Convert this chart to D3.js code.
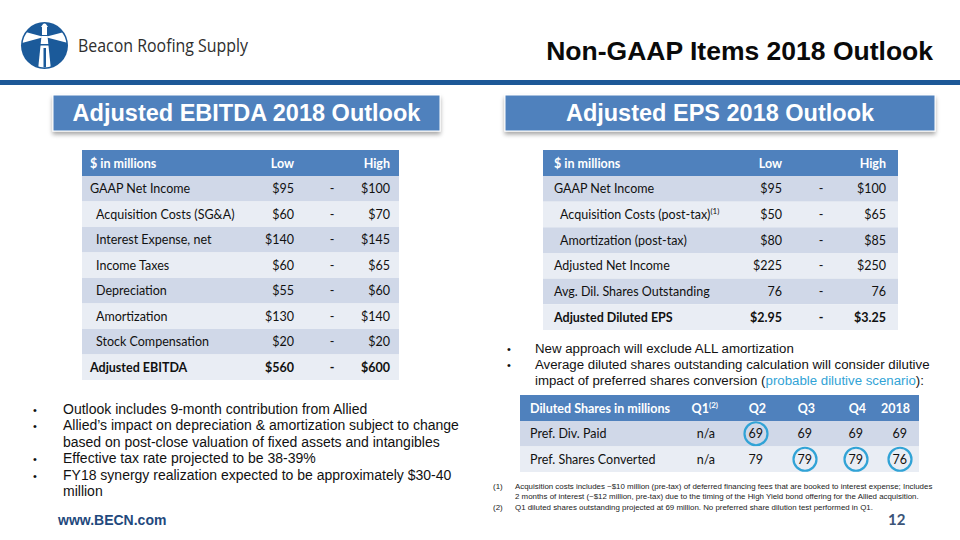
<!DOCTYPE html>
<html><head><meta charset="utf-8">
<script src="https://cdn.jsdelivr.net/npm/d3@7"></script>
<style>body{margin:0;background:#fff}svg{display:block}</style>
</head><body>
<svg id="c" width="960" height="540"></svg>
<script>
// ---------- DATA ----------
const ebitdaItems = ["GAAP Net Income","Acquisition Costs (SG&A)","Interest Expense, net","Income Taxes","Depreciation","Amortization","Stock Compensation","Adjusted EBITDA"];
const ebitdaLow  = ["$95","$60","$140","$60","$55","$130","$20","$560"];
const ebitdaHigh = ["$100","$70","$145","$65","$60","$140","$20","$600"];
const ebitdaIndent = [0,1,1,1,1,1,1,0];
const ebitdaBold   = [0,0,0,0,0,0,0,1];

const epsItems = ["GAAP Net Income","Acquisition Costs (post-tax)","Amortization (post-tax)","Adjusted Net Income","Avg. Dil. Shares Outstanding","Adjusted Diluted EPS"];
const epsNotes = ["","(1)","","","",""];
const epsLow  = ["$95","$50","$80","$225","76","$2.95"];
const epsHigh = ["$100","$65","$85","$250","76","$3.25"];
const epsIndent = [0,1,1,0,0,0];
const epsBold   = [0,0,0,0,0,1];

const tableHeader = ["$ in millions","Low","High"];

const sharesTitle = "Diluted Shares in millions";
const sharesCols = ["Q1","Q2","Q3","Q4","2018"];
const sharesColNotes = ["(2)","","","",""];
const sharesRows = ["Pref. Div. Paid","Pref. Shares Converted"];
const sharesDivPaid   = ["n/a","69","69","69","69"];
const sharesConverted = ["n/a","79","79","79","76"];
const circledDivPaid   = [0,1,0,0,0];
const circledConverted = [0,0,1,1,1];

const leftBullets = [
  ["Outlook includes 9-month contribution from Allied"],
  ["Allied\u2019s impact on depreciation & amortization subject to change","based on post-close valuation of fixed assets and intangibles"],
  ["Effective tax rate projected to be 38-39%"],
  ["FY18 synergy realization expected to be approximately $30-40","million"]
];
const footnotes = [
  ["(1)","Acquisition costs includes ~$10 million (pre-tax) of deferred financing fees that are booked to interest expense; Includes"],
  ["","2 months of interest (~$12 million, pre-tax) due to the timing of the High Yield bond offering for the Allied acquisition."],
  ["(2)","Q1 diluted shares outstanding projected at 69 million.  No preferred share dilution test performed in Q1."]
];

// ---------- STYLE ----------
const HEAD = "#4f81bd", DARK = "#d0d8e8", LIGHT = "#e9edf4", RULE = "#1d5897";
const TFONT = "Lato, 'Open Sans', sans-serif";
const AFONT = "'Liberation Sans', Arial, sans-serif";
const TEAL = "#31a3d6";

const svg = d3.select("#c");
const defs = svg.append("defs");
const f = defs.append("filter").attr("id","sh").attr("x","-5%").attr("y","-20%").attr("width","110%").attr("height","160%");
f.append("feDropShadow").attr("dx",0).attr("dy",3).attr("stdDeviation",2).attr("flood-color","#000").attr("flood-opacity",0.35);

// ---------- HEADER ----------
const logo = svg.append("g");
defs.append("clipPath").attr("id","lc").append("circle").attr("cx",44.5).attr("cy",45.5).attr("r",22);
logo.append("circle").attr("cx",44.5).attr("cy",45.5).attr("r",23.5).attr("fill","#1b5a9a");
const lg = logo.append("g").attr("clip-path","url(#lc)");
lg.append("path").attr("d","M44,37 L18,30 L18,44 Z").attr("fill","#fff");
lg.append("path").attr("d","M45,37 L72,30 L72,44 Z").attr("fill","#fff");
lg.append("path").attr("d","M41.5,36 L47.5,36 L51,70 L38,70 Z").attr("fill","#fff");
lg.append("rect").attr("x",42).attr("y",27).attr("width",5).attr("height",8).attr("fill","#fff");
lg.append("path").attr("d","M41,27 L44.5,22 L48,27 Z").attr("fill","#fff");
lg.append("rect").attr("x",39).attr("y",44).attr("width",11).attr("height",1.5).attr("fill","#1b5a9a");
lg.append("rect").attr("x",43.5).attr("y",48).attr("width",2.5).attr("height",22).attr("fill","#1b5a9a");
svg.append("text").attr("x",78).attr("y",52).attr("font-family","'Open Sans', sans-serif")
  .attr("font-size",19).attr("fill","#2e2e2e").attr("textLength",170).attr("lengthAdjust","spacingAndGlyphs")
  .text("Beacon Roofing Supply");

svg.append("text").attr("x",933).attr("y",60).attr("text-anchor","end").attr("font-family",AFONT)
  .attr("font-weight","bold").attr("font-size",26.5).attr("fill","#0a0a0a").text("Non-GAAP Items 2018 Outlook");

svg.append("rect").attr("x",0).attr("y",80).attr("width",960).attr("height",5).attr("fill",RULE);

const boxes = [
  {x:53, w:387, t:"Adjusted EBITDA 2018 Outlook"},
  {x:505, w:430, t:"Adjusted EPS 2018 Outlook"}
];
boxes.forEach(b=>{
  svg.append("rect").attr("x",b.x).attr("y",95).attr("width",b.w).attr("height",36)
    .attr("fill",HEAD).attr("stroke","#fff").attr("stroke-width",1).attr("filter","url(#sh)");
  svg.append("text").attr("x",b.x+b.w/2).attr("y",121).attr("text-anchor","middle")
    .attr("font-family",AFONT).attr("font-weight","bold").attr("font-size",23.5).attr("fill","#fff").text(b.t);
});

// ---------- TABLE helper ----------
function rangeTable(cfg){
  const g = svg.append("g");
  const n = cfg.items.length;
  const y = d3.scaleBand().domain(d3.range(n)).range([cfg.top+cfg.headH, cfg.bottom]);
  g.append("rect").attr("x",cfg.x0).attr("y",cfg.top).attr("width",cfg.x1-cfg.x0).attr("height",cfg.headH).attr("fill",HEAD);
  const hy = cfg.top+cfg.headH/2+4.5;
  const ht = g.append("g").attr("font-family",TFONT).attr("font-weight","bold").attr("font-size",12.5).attr("fill","#fff");
  ht.append("text").attr("x",cfg.labelX).attr("y",hy).text(tableHeader[0]);
  ht.append("text").attr("x",cfg.lowX).attr("y",hy).attr("text-anchor","end").text(tableHeader[1]);
  ht.append("text").attr("x",cfg.highX).attr("y",hy).attr("text-anchor","end").text(tableHeader[2]);
  const rows = g.selectAll("g.r").data(d3.range(n)).join("g").attr("class","r");
  rows.append("rect").attr("x",cfg.x0).attr("width",cfg.x1-cfg.x0)
    .attr("y",i=>y(i)).attr("height",y.bandwidth()).attr("fill",i=>i%2===0?DARK:LIGHT);
  const ty = i=>y(i)+y.bandwidth()/2+4.5;
  const tx = rows.append("g").attr("font-family",TFONT).attr("font-size",12.5).attr("fill","#111")
    .attr("font-weight",i=>cfg.bold[i]?"bold":"normal");
  const lab = tx.append("text").attr("x",i=>cfg.labelX+(cfg.indent[i]?cfg.indentW:0)).attr("y",ty);
  lab.append("tspan").text(i=>cfg.items[i]);
  if(cfg.notes){
    lab.append("tspan").attr("font-size",8).attr("dy",-5).text(i=>cfg.notes[i]);
  }
  tx.append("text").attr("x",cfg.lowX).attr("y",ty).attr("text-anchor","end").text(i=>cfg.low[i]);
  tx.append("text").attr("x",cfg.dashX).attr("y",ty).attr("text-anchor","middle").text("-");
  tx.append("text").attr("x",cfg.highX).attr("y",ty).attr("text-anchor","end").text(i=>cfg.high[i]);
}

rangeTable({items:ebitdaItems, low:ebitdaLow, high:ebitdaHigh, indent:ebitdaIndent, bold:ebitdaBold,
  x0:82, x1:399, top:150, headH:26, bottom:380, labelX:90, indentW:6, lowX:294, dashX:332, highX:390});
rangeTable({items:epsItems, notes:epsNotes, low:epsLow, high:epsHigh, indent:epsIndent, bold:epsBold,
  x0:543, x1:898, top:150, headH:26, bottom:330, labelX:554, indentW:6, lowX:782, dashX:821, highX:886});

// ---------- BULLETS ----------
function bullets(list, bx, tx, y0, lh, fs){
  const g = svg.append("g").attr("font-family",AFONT).attr("font-size",fs).attr("fill","#111");
  let yy = y0;
  list.forEach(lines=>{
    g.append("text").attr("x",bx).attr("y",yy).attr("font-size",11).text("\u2022");
    lines.forEach(l=>{
      if(Array.isArray(l)){
        const t = g.append("text").attr("x",tx).attr("y",yy);
        l.forEach(p=>t.append("tspan").attr("fill",p.c||"#111").text(p.t));
      } else g.append("text").attr("x",tx).attr("y",yy).text(l);
      yy += lh;
    });
  });
}
bullets(leftBullets, 33, 63, 414, 16.4, 14);
bullets([
  ["New approach will exclude ALL amortization"],
  ["Average diluted shares outstanding calculation will consider dilutive",
   [{t:"impact of preferred shares conversion ("},{t:"probable dilutive scenario",c:TEAL},{t:"):"}]]
], 507, 535, 353, 16, 13.25);

// ---------- SHARES TABLE ----------
(function(){
  const x0=520, x1=919, top=395, headH=26, bottom=472;
  const colX = d3.scaleOrdinal(sharesCols, [718,766,815,866,910]);
  const y = d3.scaleBand().domain(sharesRows).range([top+headH,bottom]);
  const vals = [sharesDivPaid, sharesConverted];
  const circ = [circledDivPaid, circledConverted];
  const g = svg.append("g");
  g.append("rect").attr("x",x0).attr("y",top).attr("width",x1-x0).attr("height",headH).attr("fill",HEAD);
  const hy = top+headH/2+4.5;
  const ht = g.append("g").attr("font-family",TFONT).attr("font-weight","bold").attr("font-size",12.5).attr("fill","#fff");
  ht.append("text").attr("x",530).attr("y",hy).text(sharesTitle);
  sharesCols.forEach((c,i)=>{
    const t = ht.append("text").attr("x",colX(c)).attr("y",hy).attr("text-anchor","end");
    t.append("tspan").text(c);
    if(sharesColNotes[i]) t.append("tspan").attr("font-size",8).attr("dy",-5).text(sharesColNotes[i]);
  });
  sharesRows.forEach((r,ri)=>{
    g.append("rect").attr("x",x0).attr("y",y(r)).attr("width",x1-x0).attr("height",y.bandwidth()).attr("fill",ri%2===0?DARK:LIGHT);
    const ty = y(r)+y.bandwidth()/2+4.5;
    const tg = g.append("g").attr("font-family",TFONT).attr("font-size",12.5).attr("fill","#111");
    tg.append("text").attr("x",530).attr("y",ty).text(r);
    sharesCols.forEach((c,ci)=>{
      tg.append("text").attr("x",colX(c)-3).attr("y",ty).attr("text-anchor","end").text(vals[ri][ci]);
      if(circ[ri][ci]){
        g.append("circle").attr("cx",colX(c)-10).attr("cy",y(r)+y.bandwidth()/2).attr("r",11.5)
          .attr("fill","none").attr("stroke",TEAL).attr("stroke-width",2.2);
      }
    });
  });
})();

// ---------- FOOTNOTES & FOOTER ----------
const fn = svg.append("g").attr("font-family",AFONT).attr("font-size",7.9).attr("fill","#222");
footnotes.forEach((r,i)=>{
  const yy = 489 + i*10.3;
  fn.append("text").attr("x",493).attr("y",yy).text(r[0]);
  fn.append("text").attr("x",515).attr("y",yy).text(r[1]);
});
svg.append("text").attr("x",58).attr("y",525).attr("font-family",AFONT).attr("font-weight","bold")
  .attr("font-size",14).attr("fill","#1f497d").text("www.BECN.com");
svg.append("text").attr("x",888).attr("y",525).attr("font-family",TFONT).attr("font-weight","bold").attr("font-size",15)
  .attr("fill","#3b5478").text("12");
</script>
</body></html>
